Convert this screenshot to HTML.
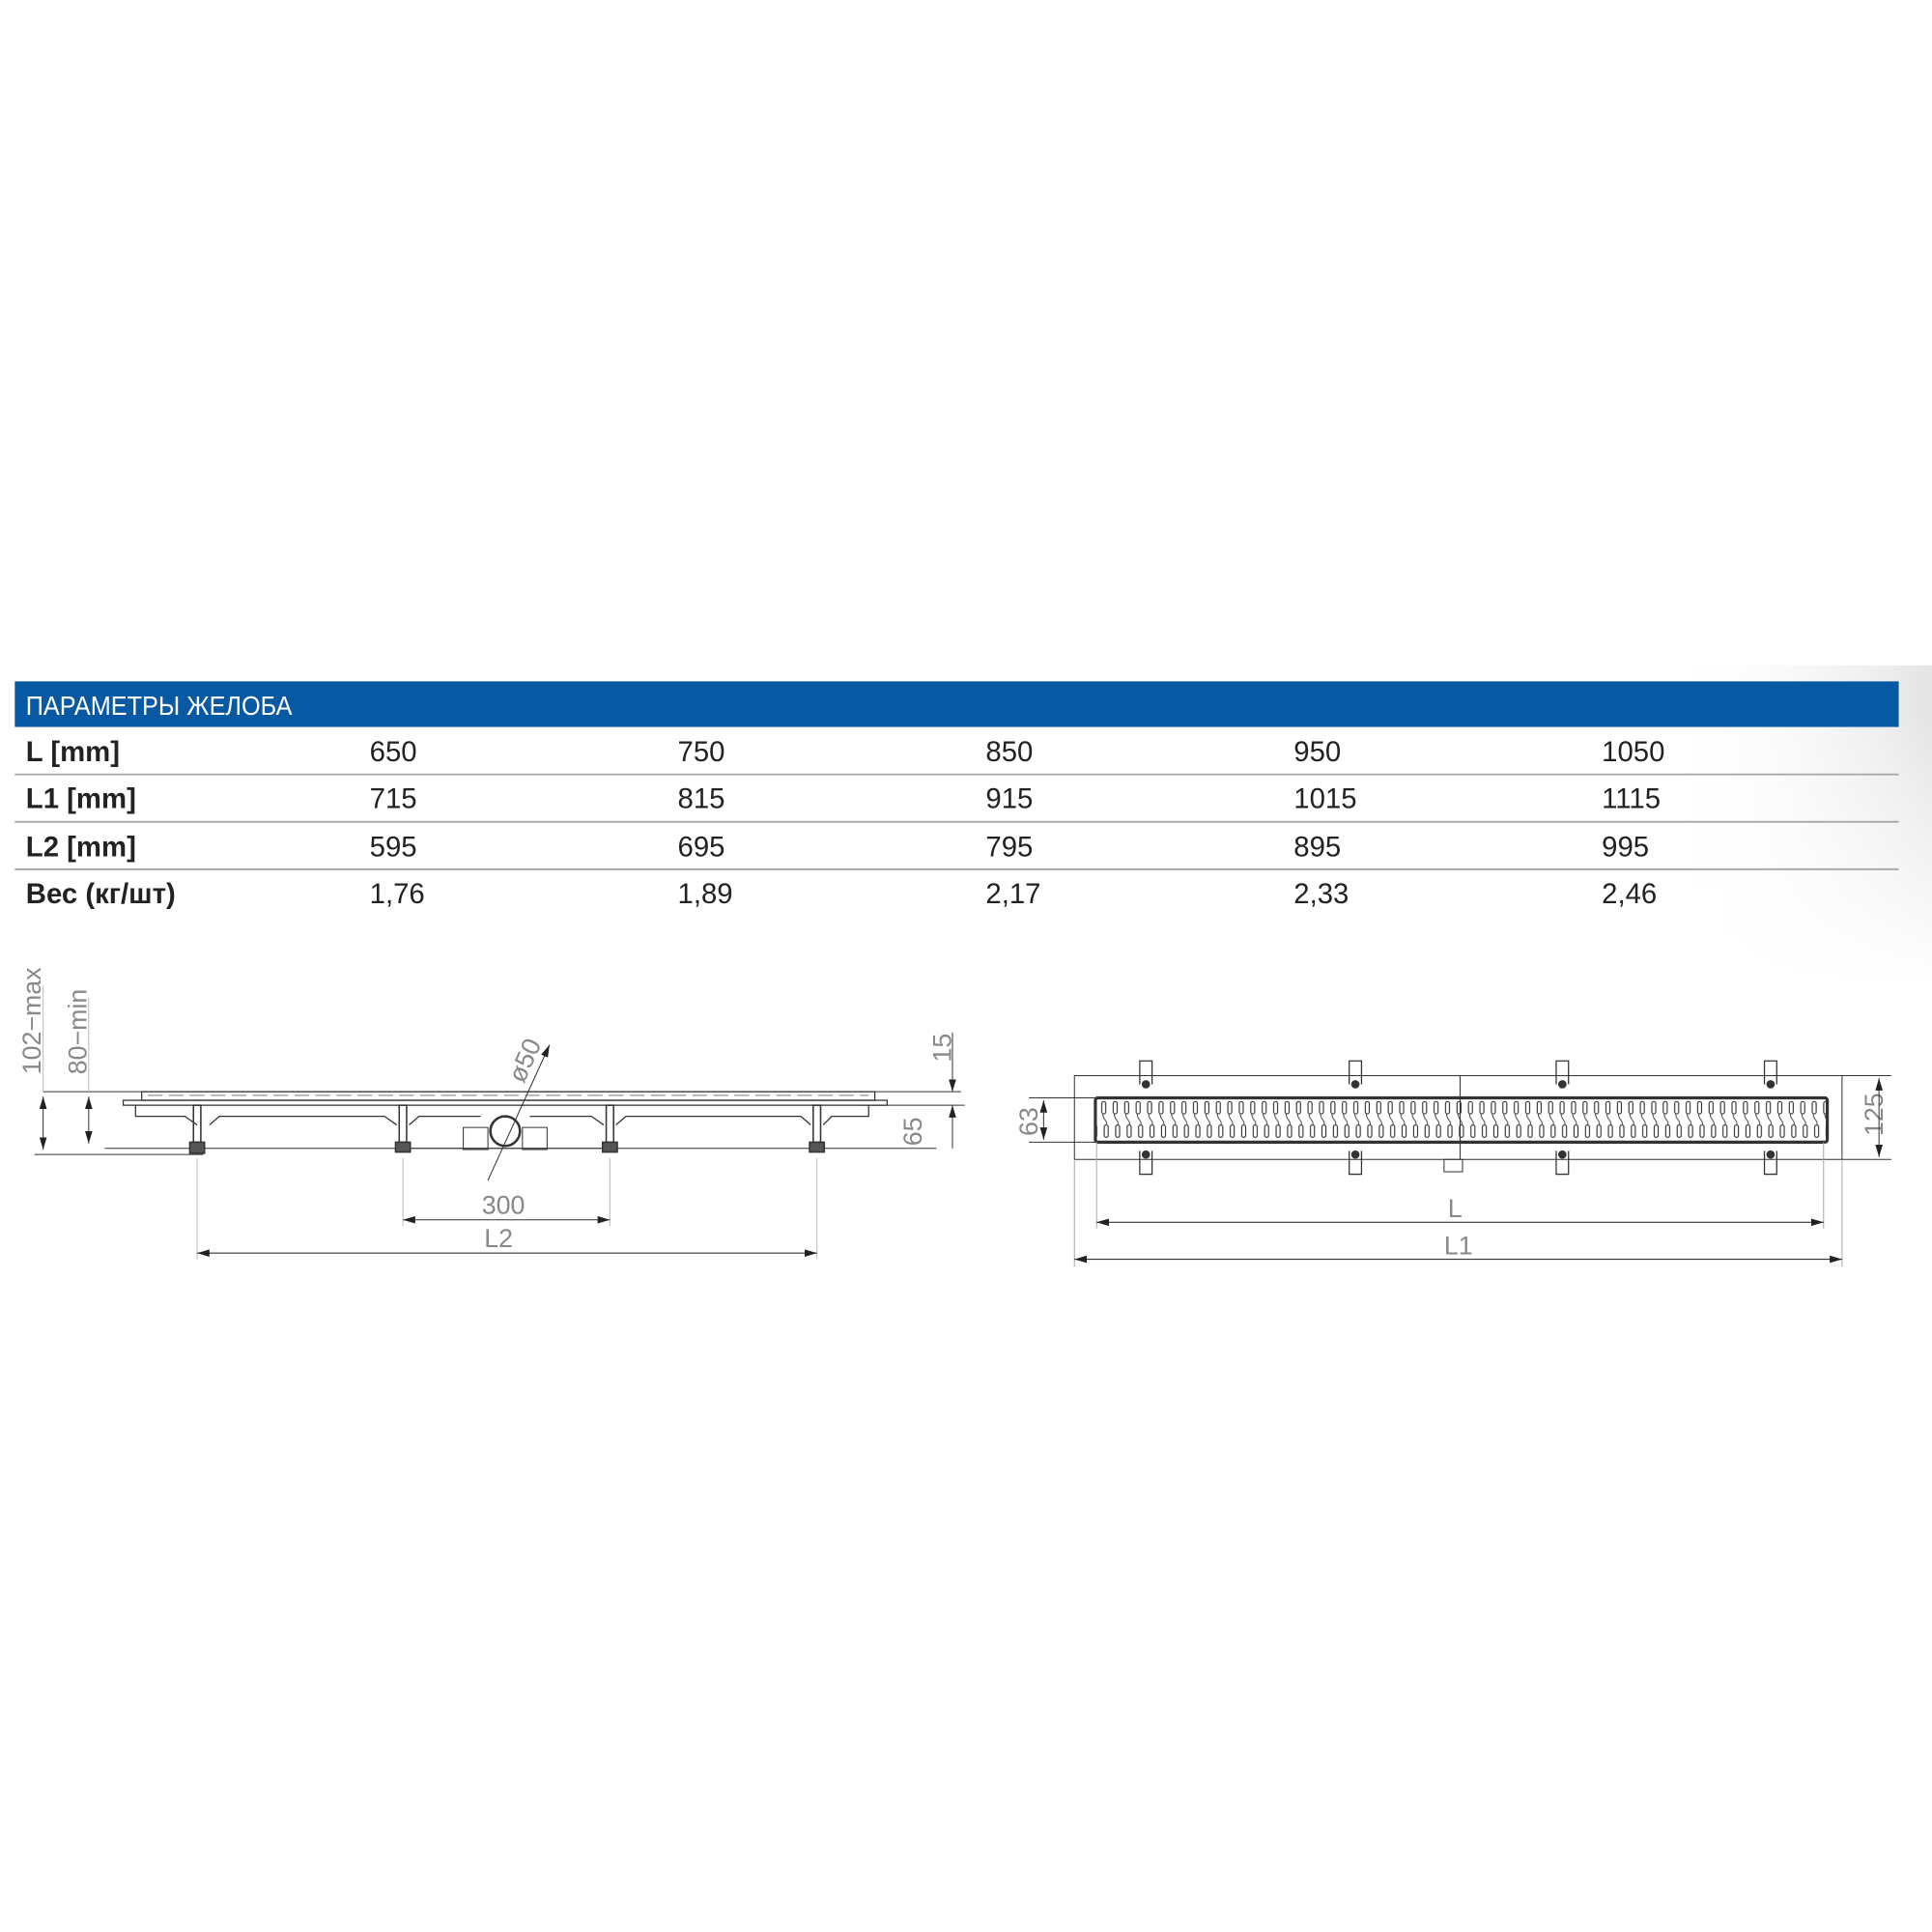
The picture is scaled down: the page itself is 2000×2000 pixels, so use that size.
<!DOCTYPE html>
<html><head><meta charset="utf-8"><style>
html,body{margin:0;padding:0;background:#fff;}
body{width:2000px;height:2000px;position:relative;overflow:hidden;font-family:"Liberation Sans",sans-serif;}
svg{position:absolute;left:0;top:0;}
</style></head><body>
<svg width="2000" height="2000" viewBox="0 0 1568 1568" xmlns="http://www.w3.org/2000/svg">
<defs>
<linearGradient id="sh" x1="0" x2="1" y1="0" y2="0">
<stop offset="0" stop-color="#fff" stop-opacity="0"/><stop offset="1" stop-color="#e4e4e4"/></linearGradient>
<linearGradient id="shv" x1="0" x2="0" y1="0" y2="1">
<stop offset="0" stop-color="#fff" stop-opacity="0"/><stop offset="0.15" stop-color="#fff" stop-opacity="0"/><stop offset="1" stop-color="#fff" stop-opacity="1"/></linearGradient>
<pattern id="slots" x="892" y="891" width="9.3" height="36" patternUnits="userSpaceOnUse">
<rect x="2.2" y="3" width="3.2" height="10" rx="1.6" fill="none" stroke="#333" stroke-width="0.9"/>
<rect x="4.2" y="22" width="3.2" height="10" rx="1.6" fill="none" stroke="#333" stroke-width="0.9"/>
<path d="M3 13 C3 18 7 18 6 22" fill="none" stroke="#333" stroke-width="0.7"/>
</pattern>
<marker id="a" viewBox="0 0 10 6" refX="10" refY="3" markerWidth="10" markerHeight="6" orient="auto-start-reverse" markerUnits="userSpaceOnUse"><path d="M0 0L10 3L0 6z" fill="#222"/></marker>
</defs>
<rect x="1350" y="540" width="218" height="260" fill="url(#sh)"/>
<rect x="1350" y="540" width="218" height="260" fill="url(#shv)"/>
<!-- table -->
<rect x="12" y="553" width="1529" height="37" fill="#0859a3"/>
<g font-family="Liberation Sans, sans-serif" font-size="23" fill="#222">
<text x="21" y="580" fill="#fff" font-size="22" transform="translate(21 0) scale(0.9 1) translate(-21 0)">ПАРАМЕТРЫ ЖЕЛОБА</text>
<g font-weight="bold"><text x="21" y="618">L [mm]</text><text x="21" y="656">L1 [mm]</text><text x="21" y="695">L2 [mm]</text><text x="21" y="733">Вес (кг/шт)</text></g>
<text x="300" y="618">650</text><text x="550" y="618">750</text><text x="800" y="618">850</text><text x="1050" y="618">950</text><text x="1300" y="618">1050</text>
<text x="300" y="656">715</text><text x="550" y="656">815</text><text x="800" y="656">915</text><text x="1050" y="656">1015</text><text x="1300" y="656">1115</text>
<text x="300" y="695">595</text><text x="550" y="695">695</text><text x="800" y="695">795</text><text x="1050" y="695">895</text><text x="1300" y="695">995</text>
<text x="300" y="733">1,76</text><text x="550" y="733">1,89</text><text x="800" y="733">2,17</text><text x="1050" y="733">2,33</text><text x="1300" y="733">2,46</text>
</g>
<g stroke="#aaa" stroke-width="1.5"><line x1="12" y1="628.5" x2="1541" y2="628.5"/><line x1="12" y1="667" x2="1541" y2="667"/><line x1="12" y1="705.5" x2="1541" y2="705.5"/></g>

<!-- left drawing -->
<g stroke="#333" stroke-width="0.8" fill="none">
<line x1="35" y1="886" x2="780" y2="886"/>
<line x1="28" y1="937" x2="165" y2="937"/>
<line x1="85" y1="932" x2="760" y2="932"/>
<line x1="700" y1="897" x2="783" y2="897"/>
<line x1="35" y1="890" x2="35" y2="933" marker-start="url(#a)" marker-end="url(#a)"/>
<line x1="72" y1="890" x2="72" y2="928" marker-start="url(#a)" marker-end="url(#a)"/>
<line x1="35" y1="800" x2="35" y2="886" stroke="#bbb"/>
<line x1="72" y1="810" x2="72" y2="886" stroke="#bbb"/>
<rect x="115" y="886" width="595" height="7" stroke-width="1"/>
<line x1="120" y1="889" x2="705" y2="889" stroke="#888" stroke-dasharray="12 5"/>
<rect x="100" y="893" width="620" height="4" stroke-width="1"/>
<path d="M110 897 V906 H150 L160 913 M170 913 L178 906 H312 L322 913 M332 913 L340 906 H390 M430 906 H480 L490 913 M500 913 L508 906 H650 L658 913 M668 913 L675 906 H705 V897" stroke-width="1"/>
<g stroke-width="1.2">
<rect x="157" y="897" width="6" height="30"/><rect x="154" y="927" width="12" height="9" fill="#555"/>
<rect x="324" y="897" width="6" height="30"/><rect x="321" y="927" width="12" height="8" fill="#555"/>
<rect x="492" y="897" width="6" height="30"/><rect x="489" y="927" width="12" height="8" fill="#555"/>
<rect x="660" y="897" width="6" height="30"/><rect x="657" y="927" width="12" height="8" fill="#555"/>
</g>
<circle cx="410" cy="918" r="12" stroke-width="2"/>
<path d="M376 915 h20 v18 h-20z M424 915 h20 v18 h-20z"/>
<line x1="333" y1="932" x2="488" y2="932"/>
<line x1="446" y1="848" x2="396" y2="958" marker-start="url(#a)"/>
<line x1="160" y1="940" x2="160" y2="1022" stroke="#bbb"/>
<line x1="663" y1="940" x2="663" y2="1022" stroke="#bbb"/>
<line x1="327" y1="940" x2="327" y2="995" stroke="#bbb"/>
<line x1="495" y1="940" x2="495" y2="995" stroke="#bbb"/>
<line x1="327" y1="990" x2="495" y2="990" marker-start="url(#a)" marker-end="url(#a)"/>
<line x1="160" y1="1017" x2="663" y2="1017" marker-start="url(#a)" marker-end="url(#a)"/>
<line x1="773" y1="838" x2="773" y2="886" marker-end="url(#a)"/>
<line x1="773" y1="897" x2="773" y2="932" marker-start="url(#a)"/>
</g>
<g fill="#888" font-size="21" font-family="Liberation Sans, sans-serif">
<text transform="translate(33 872) rotate(-90)">102−max</text>
<text transform="translate(70 872) rotate(-90)">80−min</text>
<text transform="translate(425 880) rotate(-66)">ø50</text>
<text transform="translate(772 862) rotate(-90)">15</text>
<text transform="translate(748 930) rotate(-90)">65</text>
<text x="391" y="985">300</text>
<text x="393" y="1012">L2</text>
<text transform="translate(842 922) rotate(-90)">63</text>
<text transform="translate(1528 922) rotate(-90)">125</text>
<text x="1175" y="988">L</text>
<text x="1172" y="1018">L1</text>
</g>

<!-- right drawing -->
<g stroke="#333" stroke-width="0.8" fill="none">
<rect x="872" y="873" width="623" height="68"/>
<line x1="1185" y1="873" x2="1185" y2="941"/>
<rect x="889" y="891" width="594" height="36" fill="url(#slots)" stroke-width="2.5" rx="2"/>
<g stroke-width="1">
<path d="M925 880 v-19 h10 v19 M1095 880 v-19 h10 v19 M1263 880 v-19 h10 v19 M1432 880 v-19 h10 v19"/>
<path d="M925 934 v19 h10 v-19 M1095 934 v19 h10 v-19 M1263 934 v19 h10 v-19 M1432 934 v19 h10 v-19"/>
</g>
<g fill="#333"><circle cx="930" cy="880" r="3"/><circle cx="1100" cy="880" r="3"/><circle cx="1268" cy="880" r="3"/><circle cx="1437" cy="880" r="3"/>
<circle cx="930" cy="937" r="3"/><circle cx="1100" cy="937" r="3"/><circle cx="1268" cy="937" r="3"/><circle cx="1437" cy="937" r="3"/></g>
<rect x="1172" y="941" width="15" height="10"/>
<line x1="835" y1="891" x2="889" y2="891"/><line x1="835" y1="927" x2="889" y2="927"/>
<line x1="847" y1="893" x2="847" y2="925" marker-start="url(#a)" marker-end="url(#a)"/>
<line x1="1495" y1="873" x2="1535" y2="873"/><line x1="1495" y1="941" x2="1535" y2="941"/>
<line x1="1525" y1="875" x2="1525" y2="939" marker-start="url(#a)" marker-end="url(#a)"/>
<line x1="872" y1="941" x2="872" y2="1028" stroke="#aaa"/>
<line x1="1495" y1="941" x2="1495" y2="1028" stroke="#aaa"/>
<line x1="890" y1="927" x2="890" y2="997" stroke="#aaa"/>
<line x1="1480" y1="927" x2="1480" y2="997" stroke="#aaa"/>
<line x1="890" y1="992" x2="1480" y2="992" marker-start="url(#a)" marker-end="url(#a)"/>
<line x1="872" y1="1022" x2="1495" y2="1022" marker-start="url(#a)" marker-end="url(#a)"/>
</g>
</svg>
</body></html>
